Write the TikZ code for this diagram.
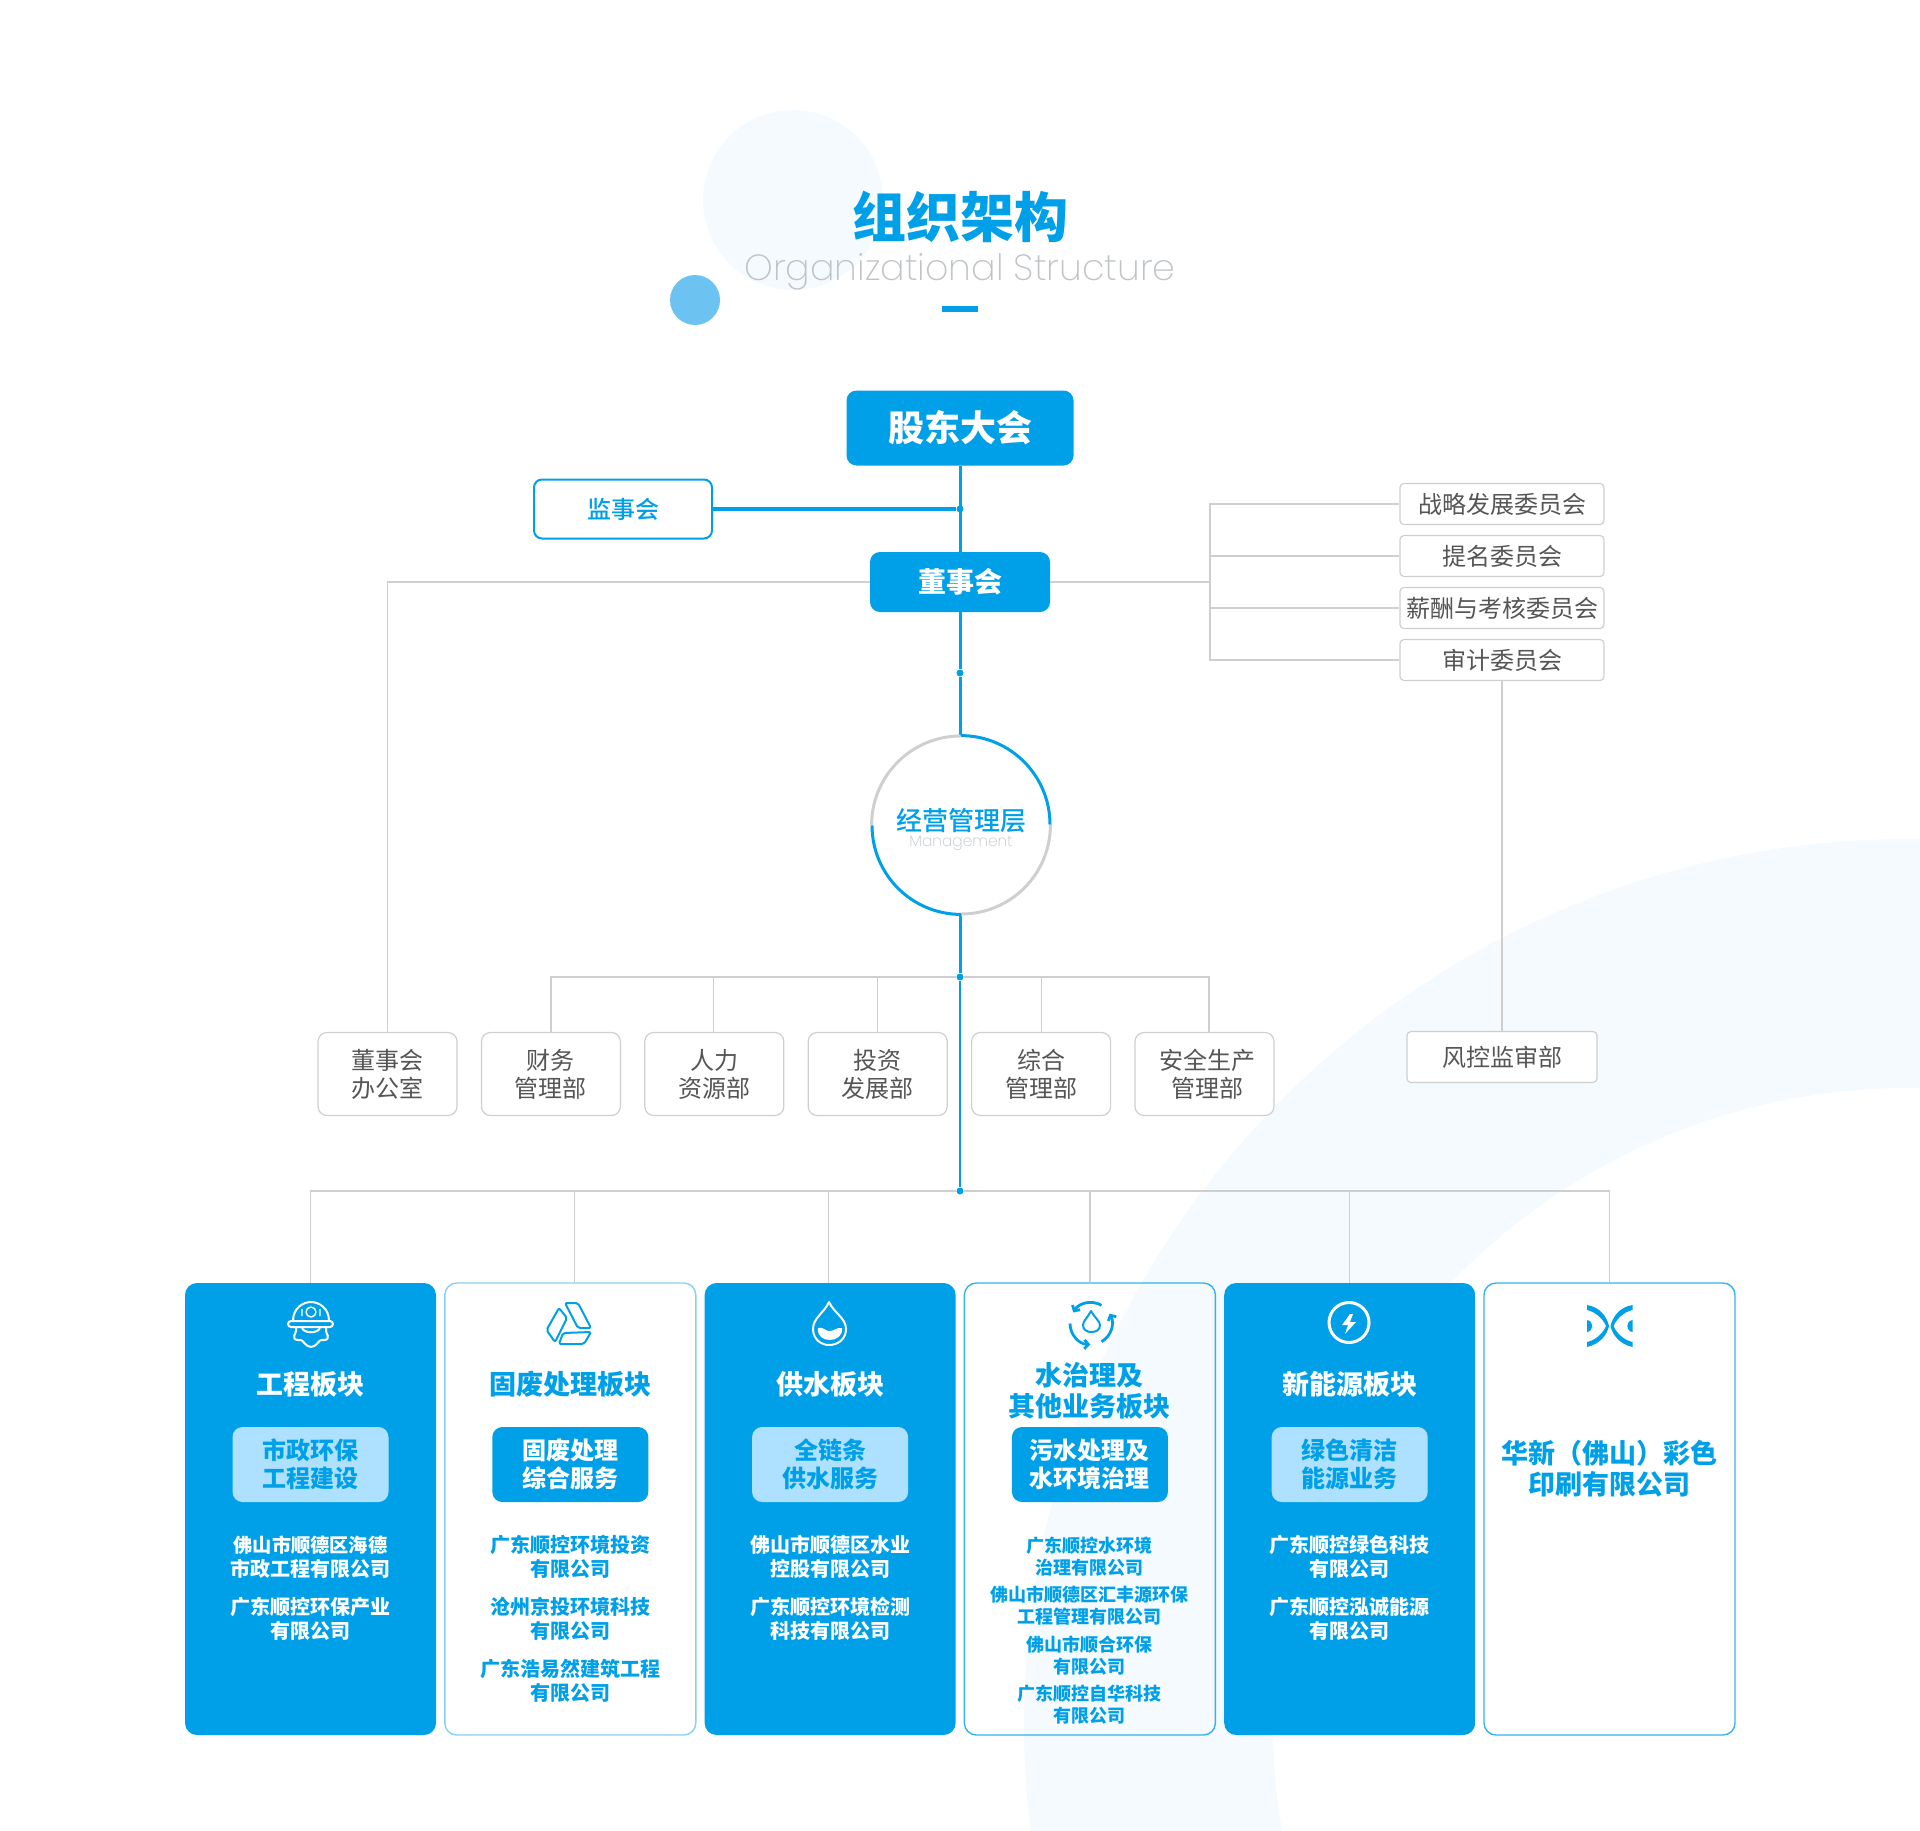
\documentclass[tikz,border=0pt]{standalone}
\usepackage{fontspec}
\setmainfont{Noto Sans CJK SC}
\newfontfamily\cjkmedium{Noto Sans CJK SC Medium}
\newfontfamily\latinlight{Poppins ExtraLight}
\usetikzlibrary{positioning,arrows.meta}
\definecolor{mainblue}{HTML}{00A0E9}
\definecolor{dotblue}{HTML}{6CC3F2}
\definecolor{tint}{HTML}{F5FAFE}
\definecolor{palebox}{HTML}{AEE1FF}
\definecolor{rule}{HTML}{CFCFCF}
\definecolor{softtext}{HTML}{BFC4C7}
\definecolor{darktext}{HTML}{555555}
\tikzset{
	blueline/.style={draw=mainblue,line width=1.5pt},
	grayline/.style={draw=rule,line width=.6pt},
	hubdot/.style={circle,fill=mainblue,inner sep=0pt,minimum size=3.5pt},
	solid box/.style={rectangle,rounded corners=5pt,fill=mainblue,text=white,inner sep=0pt},
	committee/.style={rectangle,rounded corners=2pt,draw=rule,fill=white,text=darktext,line width=.6pt,
		minimum width=102pt,minimum height=20.5pt,inner sep=0pt,font=\fontsize{12}{14}\selectfont},
	dept/.style={committee,rounded corners=4.5pt,minimum width=69.5pt,minimum height=41.5pt,align=center},
	card/.style={rectangle,rounded corners=6pt,minimum width=125.5pt,minimum height=226pt,inner sep=0pt},
	bluecard/.style={card,fill=mainblue},
	opencard/.style={card,draw=#1,line width=.7pt},
	head/.style={inner sep=0pt,align=center,font=\bfseries\fontsize{13.5}{15.5}\selectfont},
	subbox/.style={rectangle,rounded corners=5pt,minimum width=78pt,minimum height=37.5pt,inner sep=0pt,align=center,
		font=\bfseries\fontsize{12}{14.2}\selectfont},
	firm/.style={inner sep=0pt,align=center,font=\bfseries\fontsize{10}{11.75}\selectfont},
	firmsmall/.style={firm,font=\bfseries\fontsize{9}{11}\selectfont},
	icon/.style={line width=1pt,line join=round},
	cycle arc/.style={icon,mainblue,line width=1.4pt,-{Straight Barb[length=2pt,width=4.5pt]}},
}
\begin{document}
\begin{tikzpicture}[x=.5pt,y=-.5pt,node distance=10pt,on grid]
	\useasboundingbox (0,0) rectangle (1920,1830);
	\clip (0,0) rectangle (1920,1830);
	% background
	\fill[tint,even odd rule] (1909,1724) circle[radius=442.5pt] (1909,1724) circle[radius=318pt];
	\fill[tint] (793,200) circle[radius=45pt];
	\fill[dotblue] (695,300) circle[radius=12.5pt];
	% title
	\node[inner sep=0pt,text=mainblue,font=\bfseries\fontsize{27}{30}\selectfont] (title) at (960,217) {组织架构};
	\node[inner sep=0pt,text=softtext,font=\latinlight\fontsize{18.2}{22}\selectfont] (subtitle) [below=27.5pt of title] {Organizational Structure};
	\fill[mainblue] (942,306) rectangle (978,312);
	% top of the chart
	\node[solid box,minimum width=113.5pt,minimum height=37.5pt,font=\bfseries\fontsize{18}{20}\selectfont] (agm) at (960,428) {股东大会};
	\node[solid box,minimum width=90pt,minimum height=30pt,font=\bfseries\fontsize{14}{16}\selectfont] (board) [below=77pt of agm] {董事会};
	\node[rectangle,rounded corners=4pt,draw=mainblue,line width=1pt,fill=white,text=mainblue,minimum width=89pt,minimum height=29.5pt,inner sep=0pt,font=\cjkmedium\fontsize{12}{14}\selectfont] (super) at (623,509) {监事会};
	\node[hubdot] (dot_a) at (960,509) {};
	\node[hubdot] (dot_b) [below=45.5pt of board] {};
	\node[circle,minimum size=89pt,inner sep=0pt,fill=white] (mgmt) at (961,825) {};
	\node[inner sep=0pt,text=mainblue,font=\cjkmedium\fontsize{13}{15}\selectfont] (mgmt_cn) [above=2pt of mgmt] {经营管理层};
	\node[inner sep=0pt,text=softtext,font=\latinlight\fontsize{7.7}{10}\selectfont] (mgmt_en) [below=9pt of mgmt] {Management};
	\node[hubdot] (trunk) at (960,977) {};
	\node[hubdot] (hub) at (960,1191) {};
	% committees
	\node[committee] (com_1) at (1502,504) {战略发展委员会};
	\node[committee] (com_2) [below=26pt of com_1] {提名委员会};
	\node[committee] (com_3) [below=26pt of com_2] {薪酬与考核委员会};
	\node[committee] (com_4) [below=26pt of com_3] {审计委员会};
	\coordinate (com_join) at (1210,582);
	\node[committee,minimum width=95pt,minimum height=25.5pt] (risk) at (1502,1057) {风控监审部};
	% departments
	\node[dept] (dept_1) at (387.5,1074) {董事会\\办公室};
	\node[dept] (dept_2) [right=81.7pt of dept_1] {财务\\管理部};
	\node[dept] (dept_3) [right=81.7pt of dept_2] {人力\\资源部};
	\node[dept] (dept_4) [right=81.7pt of dept_3] {投资\\发展部};
	\node[dept] (dept_5) [right=81.7pt of dept_4] {综合\\管理部};
	\node[dept] (dept_6) [right=81.7pt of dept_5] {\hspace*{3pt}安全生产\\\hspace*{3pt}管理部};
	% cards
	\node[bluecard] (card_1) at (310.5,1509) {};
	\node[opencard=dotblue!80,fill=white] (card_2) [right=129.9pt of card_1] {};
	\node[bluecard] (card_3) [right=129.9pt of card_2] {};
	\node[opencard=mainblue!80] (card_4) [right=129.9pt of card_3] {};
	\node[bluecard] (card_5) [right=129.9pt of card_4] {};
	\node[opencard=mainblue!80,fill=white] (card_6) [right=129.9pt of card_5] {};
	% connectors
	\draw[blueline] (agm) -- (board);
	\draw[blueline,line width=2pt] (super) -- (dot_a);
	\draw[blueline] (board) -- (dot_b);
	\draw[blueline] (dot_b) -- (dot_b |- mgmt.north);
	\draw[blueline] (dot_b |- mgmt.south) -- (trunk);
	\draw[blueline,line width=.8pt] (trunk) -- (hub);
	\draw[grayline] (board) -| (dept_1);
	\draw[grayline] (board) -- (com_join);
	\draw[grayline] (com_1) -| (com_join);
	\draw[grayline] (com_2) -| (com_join);
	\draw[grayline] (com_3) -| (com_join);
	\draw[grayline] (com_4) -| (com_join);
	\draw[grayline] (com_4) -- (risk);
	\draw[grayline] (trunk) -| (dept_2);
	\draw[grayline] (trunk) -| ([xshift=-.5pt]dept_3.north);
	\draw[grayline] (trunk) -| (dept_4);
	\draw[grayline] (trunk) -| (dept_5);
	\draw[grayline] (trunk) -| ([xshift=2.2pt]dept_6.north);
	\draw[grayline] (hub) -| (card_1);
	\draw[grayline] (hub) -| ([xshift=2pt]card_2.north);
	\draw[grayline] (hub) -| ([xshift=-1pt]card_3.north);
	\draw[grayline] (hub) -| (card_4);
	\draw[grayline] (hub) -| (card_5);
	\draw[grayline] (hub) -| (card_6);
	% ring of the management node
	\draw[blueline,line width=1.5pt] (mgmt.north) arc[start angle=90,end angle=0,radius=44.5pt];
	\draw[rule,line width=1.5pt] (mgmt.east) arc[start angle=0,end angle=-90,radius=44.5pt];
	\draw[blueline,line width=1.5pt] (mgmt.south) arc[start angle=270,end angle=180,radius=44.5pt];
	\draw[rule,line width=1.5pt] (mgmt.west) arc[start angle=180,end angle=90,radius=44.5pt];
	% card 1
	\node[head,text=white] (head_1) [above=62.5pt of card_1] {工程板块};
	\node[subbox,fill=palebox,text=mainblue] (sub_1) [above=22.25pt of card_1] {市政环保\\工程建设};
	\node[firm,text=white] (firm_1a) [below=24pt of card_1] {\fontsize{9.6}{11.75}\selectfont 佛山市顺德区海德\\市政工程有限公司};
	\node[firm,text=white] (firm_1b) [below=31pt of firm_1a] {广东顺控环保产业\\有限公司};
	% card 2
	\node[head,text=mainblue] (head_2) [above=62.5pt of card_2] {固废处理板块};
	\node[subbox,fill=mainblue,text=white] (sub_2) [above=22.25pt of card_2] {固废处理\\综合服务};
	\node[firm,text=mainblue] (firm_2a) [below=24pt of card_2] {广东顺控环境投资\\有限公司};
	\node[firm,text=mainblue] (firm_2b) [below=31pt of firm_2a] {沧州京投环境科技\\有限公司};
	\node[firm,text=mainblue] (firm_2c) [below=31pt of firm_2b] {广东浩易然建筑工程\\有限公司};
	% card 3
	\node[head,text=white] (head_3) [above=62.5pt of card_3] {供水板块};
	\node[subbox,fill=palebox,text=mainblue] (sub_3) [above=22.25pt of card_3] {全链条\\供水服务};
	\node[firm,text=white] (firm_3a) [below=24pt of card_3] {佛山市顺德区水业\\控股有限公司};
	\node[firm,text=white] (firm_3b) [below=31pt of firm_3a] {广东顺控环境检测\\科技有限公司};
	% card 4
	\node[head,text=mainblue] (head_4) [above=59pt of card_4] {水治理及\\其他业务板块};
	\node[subbox,fill=mainblue,text=white] (sub_4) [above=22.25pt of card_4] {污水处理及\\水环境治理};
	\node[firmsmall,text=mainblue] (firm_4a) [below=24pt of card_4] {广东顺控水环境\\治理有限公司};
	\node[firmsmall,text=mainblue] (firm_4b) [below=24.5pt of firm_4a] {佛山市顺德区汇丰源环保\\工程管理有限公司};
	\node[firmsmall,text=mainblue] (firm_4c) [below=25pt of firm_4b] {佛山市顺合环保\\有限公司};
	\node[firmsmall,text=mainblue] (firm_4d) [below=24.5pt of firm_4c] {广东顺控自华科技\\有限公司};
	% card 5
	\node[head,text=white] (head_5) [above=62.5pt of card_5] {新能源板块};
	\node[subbox,fill=palebox,text=mainblue] (sub_5) [above=22.25pt of card_5] {绿色清洁\\能源业务};
	\node[firm,text=white] (firm_5a) [below=24pt of card_5] {广东顺控绿色科技\\有限公司};
	\node[firm,text=white] (firm_5b) [below=31pt of firm_5a] {广东顺控泓诚能源\\有限公司};
	% card 6
	\node[head,text=mainblue] (head_6) [above=20pt of card_6] {华新（佛山）彩色\\印刷有限公司};
	% helmet
	\draw[icon,white] (293,1321) .. controls (293,1308) and (303,1302) .. (311,1302) .. controls (319,1302) and (329,1308) .. (329,1321);
	\draw[icon,white,rounded corners=1.5pt] (288,1321) rectangle (333,1327);
	\draw[icon,white,rounded corners=1pt] (296,1327) -- (296,1333) -- (293,1337) -- (297,1341) -- (301,1339) -- (304,1343) -- (309,1347) -- (313,1347) -- (318,1343) -- (321,1339) -- (325,1341) -- (329,1337) -- (326,1333) -- (326,1327);
	\draw[icon,white] (302,1327) .. controls (302,1334) and (320,1334) .. (320,1327);
	\draw[icon,white,line width=.7pt] (311,1312) circle[radius=2.5pt] (302,1309) -- (302,1316) (320,1309) -- (320,1316);
	% triangle of bars
	\draw[icon,mainblue,rounded corners=1pt] (565,1303) -- (578,1303) -- (591,1328) -- (578,1328) -- cycle;
	\draw[icon,mainblue,rounded corners=1pt] (559,1308) -- (567,1318) -- (555,1342) -- (546.5,1330) -- cycle;
	\draw[icon,mainblue,rounded corners=1pt] (563,1333) -- (591,1332) -- (584,1344) -- (559,1344) -- cycle;
	% drop
	\draw[icon,white] (829,1302) .. controls (824,1313) and (813,1318) .. (813,1329) .. controls (813,1339) and (821,1345) .. (829,1345) .. controls (838,1345) and (846,1339) .. (846,1329) .. controls (846,1318) and (834,1313) .. (829,1302) -- cycle;
	\fill[white] (818,1328) .. controls (823,1326) and (826,1332) .. (830,1331) .. controls (834,1331) and (837,1327) .. (842,1328) .. controls (843,1336) and (836,1340) .. (830,1340) .. controls (823,1340) and (817,1336) .. (818,1328) -- cycle;
	% water cycle
	\draw[cycle arc] (1091,1323.5) ++(60:10.5pt) arc[start angle=60,end angle=148,radius=10.5pt];
	\draw[cycle arc] (1091,1323.5) ++(180:10.5pt) arc[start angle=180,end angle=268,radius=10.5pt];
	\draw[cycle arc] (1091,1323.5) ++(-60:10.5pt) arc[start angle=-60,end angle=28,radius=10.5pt];
	\draw[icon,mainblue] (1091,1311) .. controls (1088,1317) and (1083,1321) .. (1083,1325) .. controls (1083,1330) and (1087,1332) .. (1091,1332) .. controls (1096,1332) and (1100,1330) .. (1100,1325) .. controls (1100,1321) and (1094,1317) .. (1091,1311) -- cycle;
	% bolt
	\draw[white,line width=1.5pt] (1349,1322.5) circle[radius=10pt];
	\fill[white] (1350,1314) -- (1342,1325) -- (1348,1325) -- (1345,1334) -- (1356,1322) -- (1350,1322) -- (1353,1314) -- cycle;
	% logo
	\fill[mainblue] (1587,1305) .. controls (1600,1307) and (1607,1317) .. (1609,1326) .. controls (1607,1335) and (1600,1344) .. (1587,1347) -- (1587,1342) .. controls (1596,1340) and (1603,1333) .. (1606,1326) .. controls (1603,1319) and (1596,1312) .. (1587,1310) -- cycle;
	\fill[mainblue] (1632.5,1305) .. controls (1619.5,1307) and (1612.5,1317) .. (1610.5,1326) .. controls (1612.5,1335) and (1619.5,1344) .. (1632.5,1347) -- (1632.5,1342) .. controls (1623.5,1340) and (1616.5,1333) .. (1613.5,1326) .. controls (1616.5,1319) and (1623.5,1312) .. (1632.5,1310) -- cycle;
	\fill[mainblue] (1587,1320) .. controls (1594,1321) and (1594,1331) .. (1587,1332) -- cycle;
	\fill[mainblue] (1632.5,1320) .. controls (1625.5,1321) and (1625.5,1331) .. (1632.5,1332) -- cycle;
\end{tikzpicture}
\end{document}
